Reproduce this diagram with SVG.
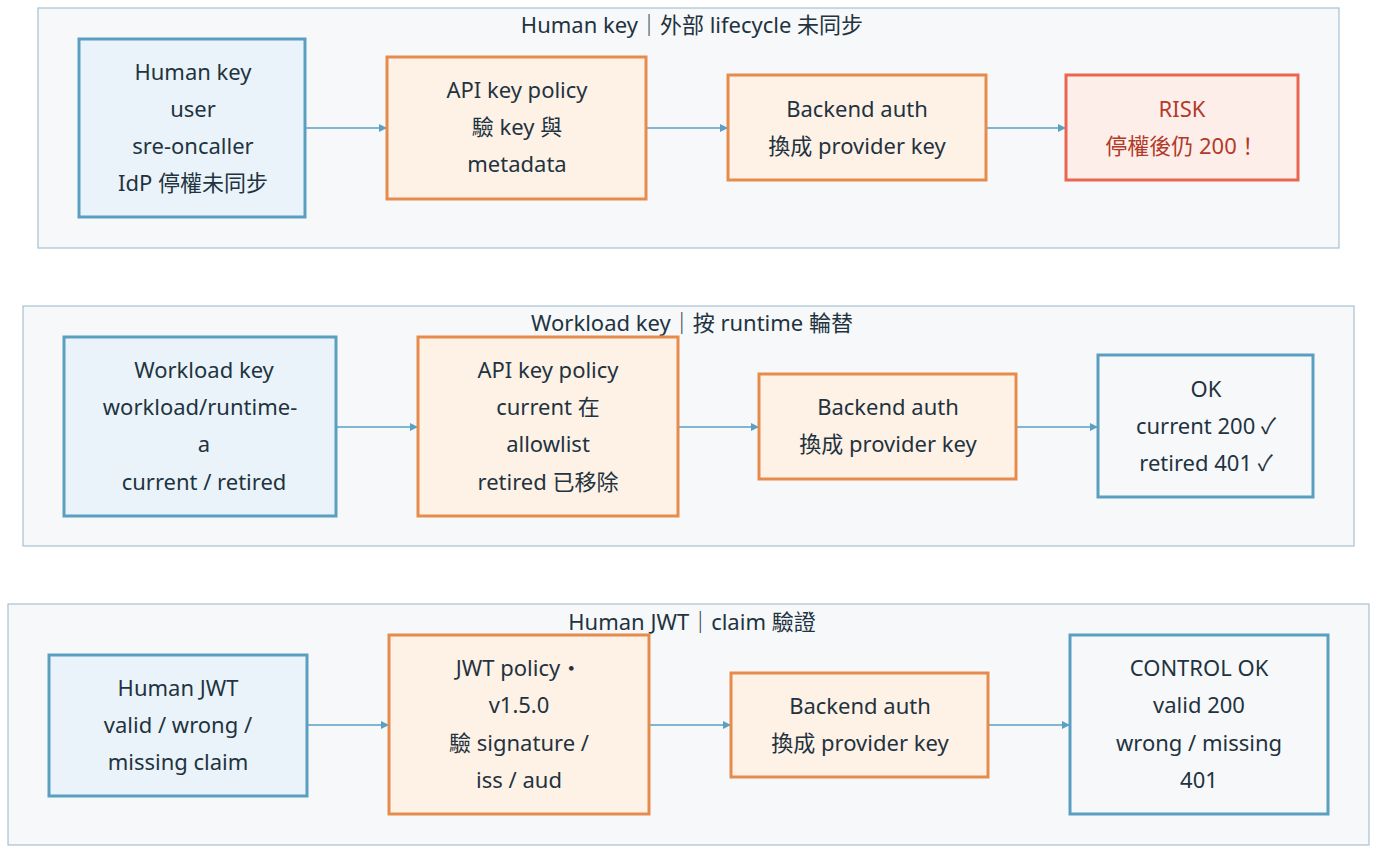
<svg xmlns="http://www.w3.org/2000/svg" width="1386" height="858" viewBox="0 0 1386 858">
<style>
text{font-family:"Noto Sans","Noto Sans CJK TC",sans-serif;font-size:22px;fill:#1f3340;text-anchor:middle}
.c{fill:#f6f8fa;stroke:#a9c2d0;stroke-width:1.2}
.b{fill:#eaf3fa;stroke:#5a9fc0;stroke-width:3}
.o{fill:#fef1e6;stroke:#e58c4d;stroke-width:3}
.w{fill:#f6f8fa;stroke:#5a9fc0;stroke-width:3}
.r{fill:#fdeee9;stroke:#ea6650;stroke-width:3}
.rt{fill:#b23a2a}
.e{stroke:#5aa0c4;stroke-width:1.5;fill:none;marker-end:url(#a)}
</style>
<defs><marker id="a" markerWidth="8" markerHeight="8" refX="7" refY="4" orient="auto" markerUnits="userSpaceOnUse"><path d="M0,0L8,4L0,8z" fill="#5aa0c4"/></marker></defs>
<g id="row1"><rect class="c" x="38" y="8" width="1301" height="240"/><text x="692" y="33">Human key｜外部 lifecycle 未同步</text></g>
<g id="row2"><rect class="c" x="23" y="306" width="1331" height="240"/><text x="692" y="331">Workload key｜按 runtime 輪替</text></g>
<g id="row3"><rect class="c" x="8" y="604" width="1361" height="241"/><text x="692" y="630">Human JWT｜claim 驗證</text></g>
<g id="connectors">
<path class="e" d="M306,128H386"/><path class="e" d="M647,128H727"/><path class="e" d="M987,128H1065"/>
<path class="e" d="M337,427H417"/><path class="e" d="M679,427H758"/><path class="e" d="M1017,427H1097"/>
<path class="e" d="M308,725H388"/><path class="e" d="M650,725H730"/><path class="e" d="M989,725H1069"/>
</g>
<g id="n1"><rect class="b" x="79" y="39" width="226" height="178"/><text x="193" y="80">Human key</text><text x="193" y="117">user</text><text x="193" y="154">sre-oncaller</text><text x="193" y="191">IdP 停權未同步</text></g>
<g id="n2"><rect class="o" x="387" y="57" width="259" height="142"/><text x="517" y="98">API key policy</text><text x="517" y="135">驗 key 與</text><text x="517" y="172">metadata</text></g>
<g id="n3"><rect class="o" x="728" y="75" width="258" height="105"/><text x="857" y="117">Backend auth</text><text x="857" y="154">換成 provider key</text></g>
<g id="n4"><rect class="r" x="1066" y="75" width="232" height="105"/><text class="rt" x="1182" y="117">RISK</text><text class="rt" x="1182" y="154">停權後仍 200！</text></g>
<g id="n5"><rect class="b" x="64" y="337" width="272" height="179"/><text x="204" y="378">Workload key</text><text x="200" y="415">workload/runtime-</text><text x="204" y="452">a</text><text x="204" y="490">current / retired</text></g>
<g id="n6"><rect class="o" x="418" y="337" width="260" height="179"/><text x="548" y="378">API key policy</text><text x="548" y="415">current 在</text><text x="548" y="452">allowlist</text><text x="548" y="490">retired 已移除</text></g>
<g id="n7"><rect class="o" x="759" y="374" width="257" height="105"/><text x="888" y="415">Backend auth</text><text x="888" y="452">換成 provider key</text></g>
<g id="n8"><rect class="w" x="1098" y="355" width="215" height="142"/><text x="1206" y="397">OK</text><text x="1206" y="434">current 200 ✓</text><text x="1206" y="471">retired 401 ✓</text></g>
<g id="n9"><rect class="b" x="49" y="655" width="258" height="141"/><text x="178" y="696">Human JWT</text><text x="178" y="733">valid / wrong /</text><text x="178" y="770">missing claim</text></g>
<g id="n10"><rect class="o" x="389" y="635" width="260" height="179"/><text x="519" y="676">JWT policy・</text><text x="519" y="713">v1.5.0</text><text x="519" y="751">驗 signature /</text><text x="519" y="788">iss / aud</text></g>
<g id="n11"><rect class="o" x="731" y="673" width="257" height="104"/><text x="860" y="714">Backend auth</text><text x="860" y="751">換成 provider key</text></g>
<g id="n12"><rect class="w" x="1070" y="635" width="258" height="179"/><text x="1199" y="676">CONTROL OK</text><text x="1199" y="713">valid 200</text><text x="1199" y="751">wrong / missing</text><text x="1199" y="788">401</text></g>
</svg>
